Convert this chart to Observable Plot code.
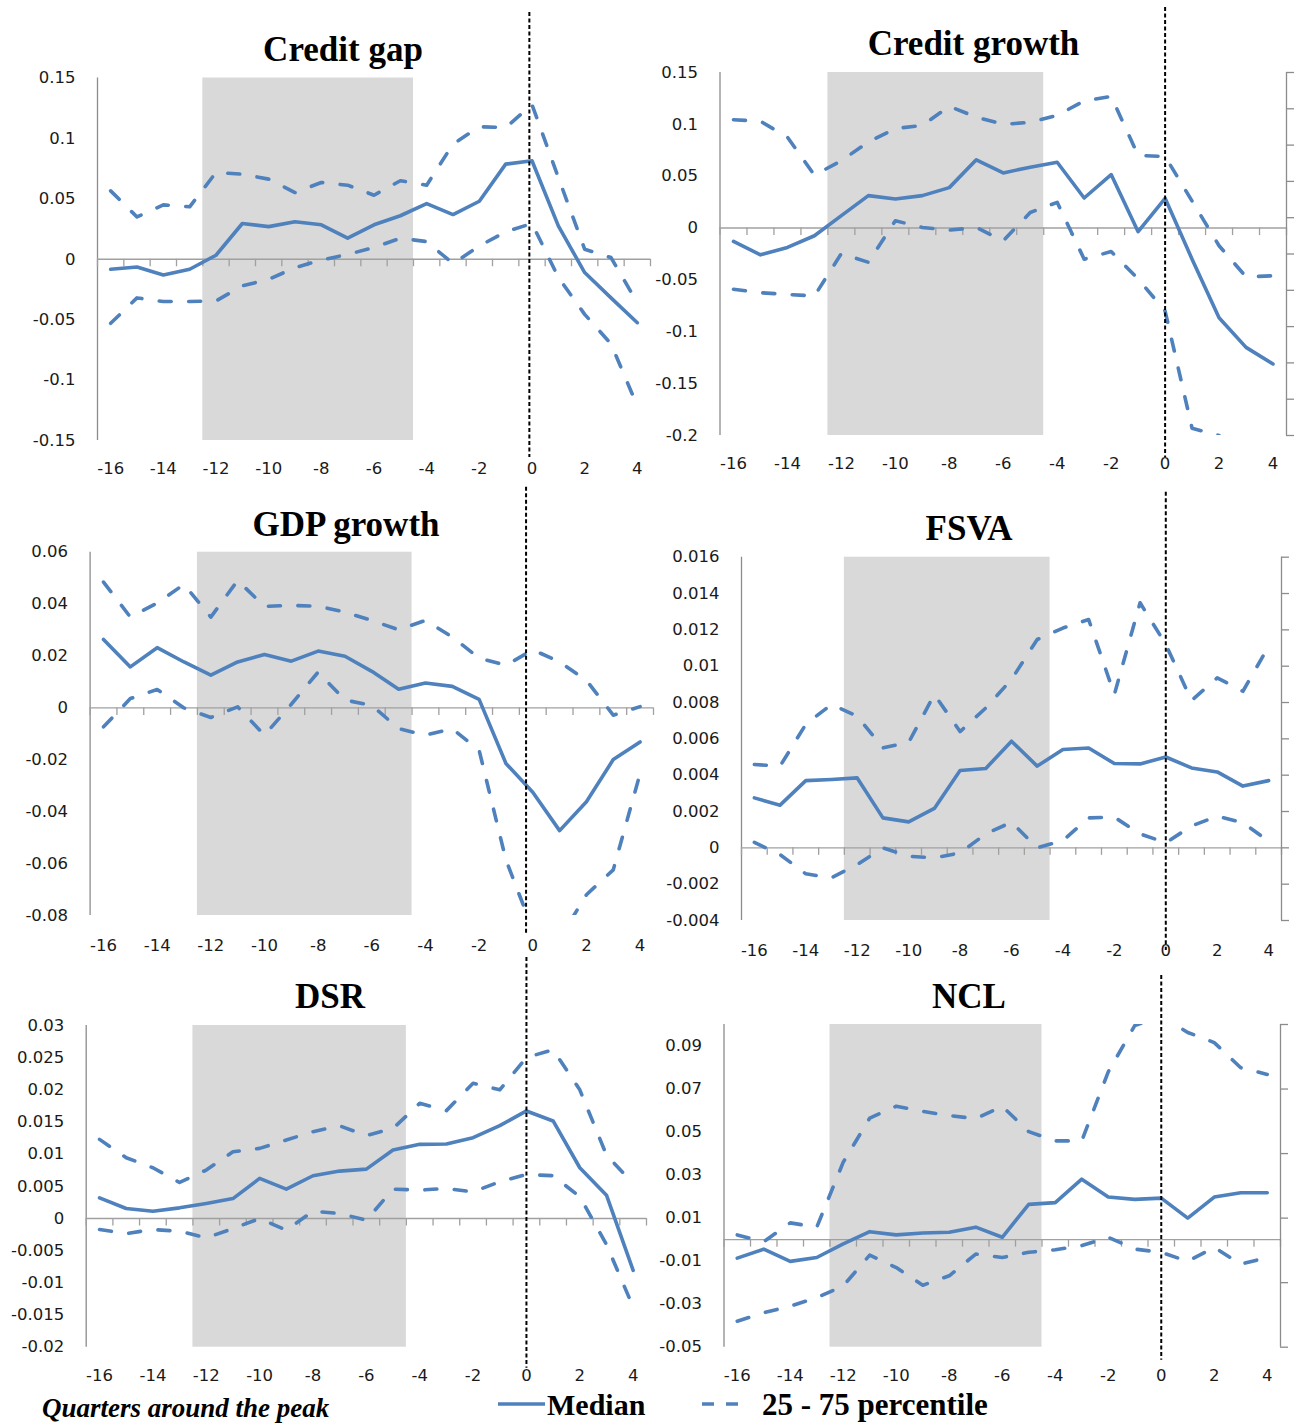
<!DOCTYPE html>
<html><head><meta charset="utf-8">
<script src="https://cdn.jsdelivr.net/npm/d3@7"></script>
<script src="https://cdn.jsdelivr.net/npm/@observablehq/plot@0.6"></script>
<style>
body{margin:0;background:#fff;}
#root{position:relative;width:1297px;height:1426px;overflow:hidden;background:#fff;}
.panel{position:absolute;}
</style></head><body><div id="root"></div>
<script>
// ---------- data ----------
const quarters = [-16,-15,-14,-13,-12,-11,-10,-9,-8,-7,-6,-5,-4,-3,-2,-1,0,1,2,3,4];
const xTickLabels = [-16,-14,-12,-10,-8,-6,-4,-2,0,2,4];
const shadeWindow = [{x1: -12.5, x2: -4.5}];

const creditGapMedian = [-0.0083,-0.0064,-0.013,-0.0083,0.0033,0.0296,0.027,0.031,0.0285,0.0174,0.0285,0.036,0.046,0.037,0.048,0.0787,0.0815,0.0276,-0.011,-0.032,-0.0525];
const creditGapP75 = [0.0566,0.035,0.045,0.0434,0.0718,0.0704,0.0663,0.0552,0.0635,0.0613,0.053,0.065,0.0613,0.0953,0.1097,0.109,0.128,0.0677,0.0083,0.0014,-0.036];
const creditGapP25 = [-0.053,-0.032,-0.035,-0.035,-0.0345,-0.022,-0.0166,-0.007,-0.0006,0.004,0.0097,0.0174,0.0146,-0.0036,0.011,0.0227,0.0296,-0.015,-0.0456,-0.07,-0.1215];
const creditGapTicks = [-0.15,-0.1,-0.05,0,0.05,0.1,0.15];

const creditGrowthMedian = [-0.0129,-0.0258,-0.0187,-0.0074,0.012,0.0313,0.028,0.0313,0.039,0.0658,0.0532,0.0587,0.0635,0.029,0.0516,-0.0035,0.0287,-0.03,-0.0865,-0.115,-0.131];
const creditGrowthP75 = [0.1045,0.103,0.0877,0.051,0.065,0.083,0.096,0.099,0.1174,0.107,0.1,0.102,0.1087,0.1226,0.127,0.07,0.069,0.026,-0.017,-0.047,-0.046];
const creditGrowthP25 = [-0.059,-0.0623,-0.064,-0.0655,-0.0245,-0.033,0.0071,0.0006,-0.002,0.0006,-0.0123,0.015,0.0248,-0.03,-0.0226,-0.049,-0.08,-0.193,-0.2,null,null];
const creditGrowthTicks = [-0.2,-0.15,-0.1,-0.05,0,0.05,0.1,0.15];
const creditGrowthRightTicks = [0.15,0.115,0.08,0.045,0.01,-0.025,-0.06,-0.095,-0.13,-0.165,-0.2];

const gdpMedian = [0.0264,0.0158,0.0232,0.0177,0.0126,0.0177,0.0206,0.018,0.0219,0.0199,0.0141,0.0072,0.0096,0.0083,0.0033,-0.0214,-0.0325,-0.0473,-0.0362,-0.0199,-0.0131];
const gdpP75 = [0.0485,0.035,0.0404,0.0476,0.035,0.0491,0.0391,0.0395,0.0392,0.0369,0.0337,0.0301,0.0337,0.0273,0.0192,0.0164,0.0224,0.0177,0.0106,-0.0028,0.0005];
const gdpP25 = [-0.0073,0.0036,0.0071,0,-0.0037,0.0004,-0.0105,0.0014,0.0138,0.003,0.001,-0.008,-0.0105,-0.008,-0.0163,-0.0586,-0.0855,-0.089,-0.072,-0.0624,-0.0253];
const gdpTicks = [-0.08,-0.06,-0.04,-0.02,0,0.02,0.04,0.06];

const fsvaMedian = [0.00275,0.00235,0.0037,0.00376,0.00385,0.00165,0.00143,0.00217,0.00426,0.00437,0.00587,0.0045,0.00541,0.0055,0.00464,0.00462,0.005,0.0044,0.00418,0.0034,0.0037];
const fsvaP75 = [0.00459,0.0045,0.0068,0.0079,0.00725,0.0055,0.0058,0.00844,0.0064,0.0077,0.00927,0.01147,0.0121,0.01257,0.00844,0.01349,0.0112,0.00811,0.00936,0.00862,0.0111];
const fsvaP25 = [0.0003,-0.00037,-0.00143,-0.00165,-0.00092,0,-0.00046,-0.00055,-0.00028,0.00077,0.00141,0,0.0004,0.00165,0.00169,0.00077,0.00028,0.0012,0.00174,0.00138,0.00037];
const fsvaTicks = [-0.004,-0.002,0,0.002,0.004,0.006,0.008,0.01,0.012,0.014,0.016];

const dsrMedian = [0.0032,0.00156,0.00114,0.00166,0.00234,0.0031,0.00623,0.00457,0.00665,0.00737,0.00768,0.01064,0.01153,0.01158,0.01257,0.01443,0.01672,0.01516,0.00789,0.00363,-0.00805];
const dsrP75 = [0.0123,0.00945,0.00789,0.0056,0.00753,0.01038,0.0109,0.0122,0.0135,0.0144,0.0129,0.014,0.0179,0.01677,0.02103,0.02,0.02503,0.02622,0.02,0.00987,0.00545];
const dsrP25 = [-0.00171,-0.00234,-0.00171,-0.00197,-0.00301,-0.00156,0,-0.00182,0.00114,0.00078,-0.00026,0.00457,0.00441,0.00467,0.00415,0.00571,0.00685,0.00665,0.00338,-0.00405,-0.01376];
const dsrTicks = [-0.02,-0.015,-0.01,-0.005,0,0.005,0.01,0.015,0.02,0.025,0.03];

const nclMedian = [-0.0086,-0.0044,-0.0101,-0.0083,-0.002,0.0037,0.0022,0.0031,0.0034,0.0058,0.0011,0.0164,0.0172,0.0281,0.0198,0.0187,0.0193,0.01,0.0198,0.0218,0.0218];
const nclP75 = [0.0022,-0.001,0.0078,0.0058,0.036,0.0565,0.062,0.0596,0.0577,0.0562,0.062,0.0502,0.0459,0.0459,0.078,0.0995,0.104,0.0963,0.0916,0.0799,0.0768];
const nclP25 = [-0.0379,-0.034,-0.0309,-0.027,-0.0215,-0.0072,-0.013,-0.0212,-0.0168,-0.0067,-0.0083,-0.0059,-0.0047,-0.0028,0.0011,-0.0044,-0.0059,-0.0101,-0.0036,-0.0114,-0.0083];
const nclTicks = [-0.05,-0.03,-0.01,0.01,0.03,0.05,0.07,0.09];
const nclRightTicks = [0.1,0.07,0.04,0.01,-0.02,-0.05];

const titles = ["Credit gap","Credit growth","GDP growth","FSVA","DSR","NCL"];
const legendLabels = ["Quarters around the peak","Median","25 - 75 percentile"];

// ---------- layout ----------
const BLUE = "#4F81BD";
const panels = [
  {title: titles[0], med: creditGapMedian, hi: creditGapP75, lo: creditGapP25, ticks: creditGapTicks, domain: [-0.15, 0.15], right: null, peak: -0.1,
   left: 0, top: 0, width: 660, height: 480, mL: 97, mR: 10, mT: 77.5, mB: 40, xPad: 22, pInset: [-65.5, -17], tx: 343, ty: 61},
  {title: titles[1], med: creditGrowthMedian, hi: creditGrowthP75, lo: creditGrowthP25, ticks: creditGrowthTicks, domain: [-0.2, 0.15], right: creditGrowthRightTicks, peak: 0,
   left: 648, top: 0, width: 649, height: 480, mL: 71.5, mR: 11, mT: 72, mB: 45, xPad: 22, pInset: [-65, -22], tx: 973.5, ty: 55},
  {title: titles[2], med: gdpMedian, hi: gdpP75, lo: gdpP25, ticks: gdpTicks, domain: [-0.08, 0.06], right: null, peak: -0.25,
   left: 0, top: 480, width: 660, height: 480, mL: 89.6, mR: 7, mT: 71.7, mB: 45, xPad: 24, pInset: [-65, -20], tx: 346, ty: 536},
  {title: titles[3], med: fsvaMedian, hi: fsvaP75, lo: fsvaP25, ticks: fsvaTicks, domain: [-0.004, 0.016], right: fsvaTicks, peak: 0,
   left: 648, top: 480, width: 649, height: 480, mL: 93, mR: 16, mT: 76.7, mB: 40, xPad: 24, pInset: [-65, -30], tx: 969, ty: 540},
  {title: titles[4], med: dsrMedian, hi: dsrP75, lo: dsrP25, ticks: dsrTicks, domain: [-0.02, 0.03], right: null, peak: 0,
   left: 0, top: 960, width: 660, height: 466, mL: 85.7, mR: 14, mT: 65, mB: 79.3, xPad: 22, pInset: [-68, -21], tx: 330, ty: 1008},
  {title: titles[5], med: nclMedian, hi: nclP75, lo: nclP25, ticks: nclTicks, domain: [-0.05, 0.1], right: nclRightTicks, peak: 0,
   left: 648, top: 960, width: 649, height: 466, mL: 75.5, mR: 17, mT: 64, mB: 79.3, xPad: 22, pInset: [-49, -13], tx: 969, ty: 1008}
];

const xMin = quarters[0] - 0.5, xMax = quarters[quarters.length - 1] + 0.5;
const boundaries = quarters.map(q => q - 0.5).concat([xMax]);
const fmt = d => String(Math.round(d * 1e6) / 1e6);
const series = arr => quarters.map((q, i) => ({q, v: arr[i] == null ? NaN : arr[i]}));

const root = document.getElementById("root");

for (const p of panels) {
  const lineOpts = {x: "q", y: "v", stroke: BLUE, strokeWidth: 3.6, strokeLinejoin: "round", clip: true};
  const dashOpts = {...lineOpts, strokeDasharray: "12,17.5", strokeLinecap: "round"};
  const marks = [
    Plot.rect(shadeWindow, {x1: "x1", x2: "x2", fill: "#d9d9d9"}),
    Plot.ruleX([xMin], {stroke: "#8c8c8c", strokeWidth: 1.3}),
    Plot.ruleY([0], {stroke: "#a0a0a0", strokeWidth: 1.4}),
    Plot.ruleX(boundaries, {x: d => d, y1: () => 0, y2: () => 0, insetBottom: -7.5, stroke: "#a0a0a0", strokeWidth: 1.3})
  ];
  if (p.right) {
    marks.push(Plot.ruleX([xMax], {stroke: "#8c8c8c", strokeWidth: 1.3}));
    marks.push(Plot.ruleY(p.right, {y: d => d, x1: () => xMax, x2: () => xMax, insetRight: -8, stroke: "#8c8c8c", strokeWidth: 1.3}));
  }
  marks.push(
    Plot.line(series(p.lo), dashOpts),
    Plot.line(series(p.hi), dashOpts),
    Plot.line(series(p.med), lineOpts),
    Plot.ruleX([p.peak], {x: d => d, stroke: "#000", strokeWidth: 2, strokeDasharray: "4,2.5", insetTop: p.pInset[0], insetBottom: p.pInset[1]})
  );
  const chart = Plot.plot({
    width: p.width, height: p.height,
    marginLeft: p.mL, marginRight: p.mR, marginTop: p.mT, marginBottom: p.mB,
    x: {domain: [xMin, xMax], ticks: xTickLabels, tickSize: 0, tickPadding: p.xPad, tickFormat: d => String(d), label: null},
    y: {domain: p.domain, ticks: p.ticks, tickSize: 0, tickPadding: 22, tickFormat: fmt, label: null},
    style: {background: "transparent", overflow: "visible", fontFamily: "'DejaVu Sans', sans-serif", fontSize: "16.5px", color: "#1a1a1a"},
    marks
  });
  const wrap = document.createElement("div");
  wrap.className = "panel";
  wrap.style.left = p.left + "px";
  wrap.style.top = p.top + "px";
  wrap.style.width = p.width + "px";
  wrap.style.height = p.height + "px";
  wrap.appendChild(chart);
  root.appendChild(wrap);
}

// ---------- titles and legend ----------
const ov = d3.select(root).append("svg")
  .attr("width", 1297).attr("height", 1426)
  .style("position", "absolute").style("left", 0).style("top", 0)
  .style("overflow", "visible");
ov.selectAll("text.title").data(panels).join("text")
  .attr("class", "title")
  .attr("x", d => d.tx).attr("y", d => d.ty)
  .attr("text-anchor", "middle")
  .attr("font-family", "'Liberation Serif', 'Times New Roman', serif")
  .attr("font-weight", "bold").attr("font-size", 35).attr("fill", "#000")
  .text(d => d.title);

const leg = ov.append("g").attr("font-family", "'Liberation Serif', 'Times New Roman', serif").attr("fill", "#000");
leg.append("text").attr("x", 42).attr("y", 1417).attr("font-style", "italic").attr("font-weight", "bold").attr("font-size", 27).text(legendLabels[0]);
leg.append("line").attr("x1", 498).attr("x2", 545).attr("y1", 1404).attr("y2", 1404).attr("stroke", BLUE).attr("stroke-width", 3.6);
leg.append("text").attr("x", 547).attr("y", 1415).attr("font-weight", "bold").attr("font-size", 30).text(legendLabels[1]);
leg.append("line").attr("x1", 702).attr("x2", 738).attr("y1", 1404).attr("y2", 1404).attr("stroke", BLUE).attr("stroke-width", 3.6).attr("stroke-dasharray", "12,12");
leg.append("text").attr("x", 762).attr("y", 1415).attr("font-weight", "bold").attr("font-size", 31).text(legendLabels[2]);
</script></body></html>
